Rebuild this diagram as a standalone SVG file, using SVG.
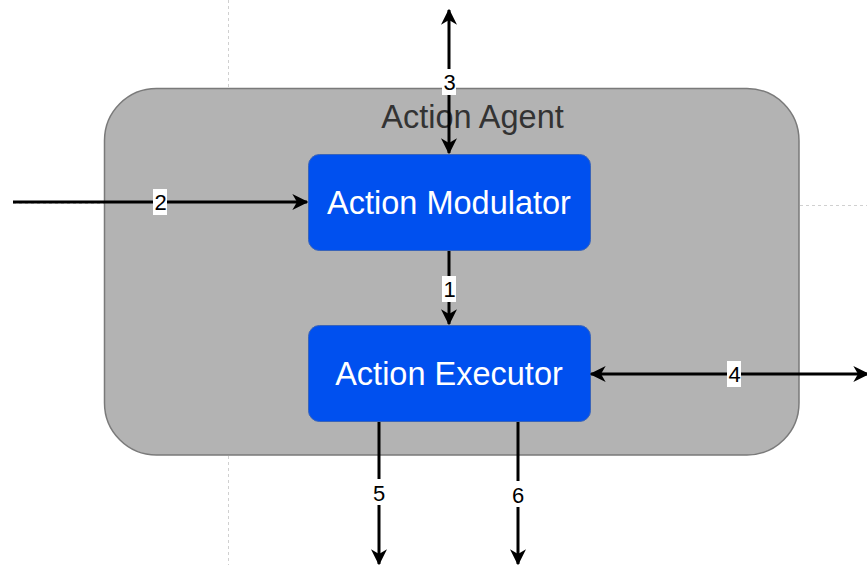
<svg xmlns="http://www.w3.org/2000/svg" width="867" height="565" viewBox="0 0 867 565">
  <defs>
    <marker id="arrow" viewBox="0 0 12 12" refX="11" refY="6" markerWidth="16" markerHeight="16" orient="auto-start-reverse" markerUnits="userSpaceOnUse">
      <path d="M0,0 L12,6 L0,12 L3.5,6 Z" fill="#000"/>
    </marker>
    <style>
      .guide { stroke: #d0d0d0; stroke-width: 1; stroke-dasharray: 3 3; fill: none; }
      .agent { fill: #b3b3b3; stroke: #7a7a7a; stroke-width: 1.5; }
      .box { fill: #0050ef; stroke: #3a64b8; stroke-width: 1; }
      .wire { stroke: #000; stroke-width: 3; fill: none; }
      .title { font-family: "Liberation Sans", Arial, sans-serif; font-size: 32.5px; fill: #333333; text-anchor: middle; }
      .name { font-family: "Liberation Sans", Arial, sans-serif; font-size: 32.5px; fill: #ffffff; text-anchor: middle; }
      .lbl { font-family: "Liberation Sans", Arial, sans-serif; font-size: 22px; fill: #000; text-anchor: middle; }
      .lblbg { fill: #ffffff; }
    </style>
  </defs>

  <!-- page guides -->
  <g id="guides">
    <line class="guide" x1="228.5" y1="0" x2="228.5" y2="88"/>
    <line class="guide" x1="228.5" y1="456" x2="228.5" y2="565"/>
    <line class="guide" x1="13" y1="203.5" x2="104" y2="203.5"/>
    <line class="guide" x1="800" y1="205.5" x2="867" y2="205.5"/>
  </g>

  <!-- container -->
  <g id="action-agent">
    <rect class="agent" x="104.5" y="88.5" width="694.5" height="366.5" rx="52" ry="52"/>
    <text class="title" x="472.5" y="127.5">Action Agent</text>
  </g>

  <g id="action-modulator">
    <rect class="box" x="308.5" y="154.5" width="282" height="96" rx="11" ry="11"/>
    <text class="name" x="449" y="214">Action Modulator</text>
  </g>

  <g id="action-executor">
    <rect class="box" x="308.5" y="325.5" width="282" height="96" rx="11" ry="11"/>
    <text class="name" x="449" y="385">Action Executor</text>
  </g>

  <!-- connectors -->
  <g id="connectors">
    <line class="wire" x1="449" y1="10" x2="449" y2="153" marker-start="url(#arrow)" marker-end="url(#arrow)"/>
    <line class="wire" x1="13" y1="202" x2="307" y2="202" marker-end="url(#arrow)"/>
    <line class="wire" x1="449" y1="251" x2="449" y2="324" marker-end="url(#arrow)"/>
    <line class="wire" x1="591" y1="374" x2="868" y2="374" marker-start="url(#arrow)" marker-end="url(#arrow)"/>
    <line class="wire" x1="379" y1="422" x2="379" y2="564" marker-end="url(#arrow)"/>
    <line class="wire" x1="518" y1="422" x2="518" y2="564" marker-end="url(#arrow)"/>

    <rect class="lblbg" x="442" y="69" width="14" height="26"/>
    <text class="lbl" x="449.5" y="90">3</text>
    <rect class="lblbg" x="153" y="189" width="14" height="26"/>
    <text class="lbl" x="160.5" y="210">2</text>
    <rect class="lblbg" x="442" y="276" width="14" height="26"/>
    <text class="lbl" x="449.5" y="297">1</text>
    <rect class="lblbg" x="727" y="361" width="14" height="26"/>
    <text class="lbl" x="734.5" y="382">4</text>
    <rect class="lblbg" x="371" y="479" width="16" height="26"/>
    <text class="lbl" x="379" y="501">5</text>
    <rect class="lblbg" x="510" y="481" width="16" height="26"/>
    <text class="lbl" x="518" y="503">6</text>
  </g>
</svg>
